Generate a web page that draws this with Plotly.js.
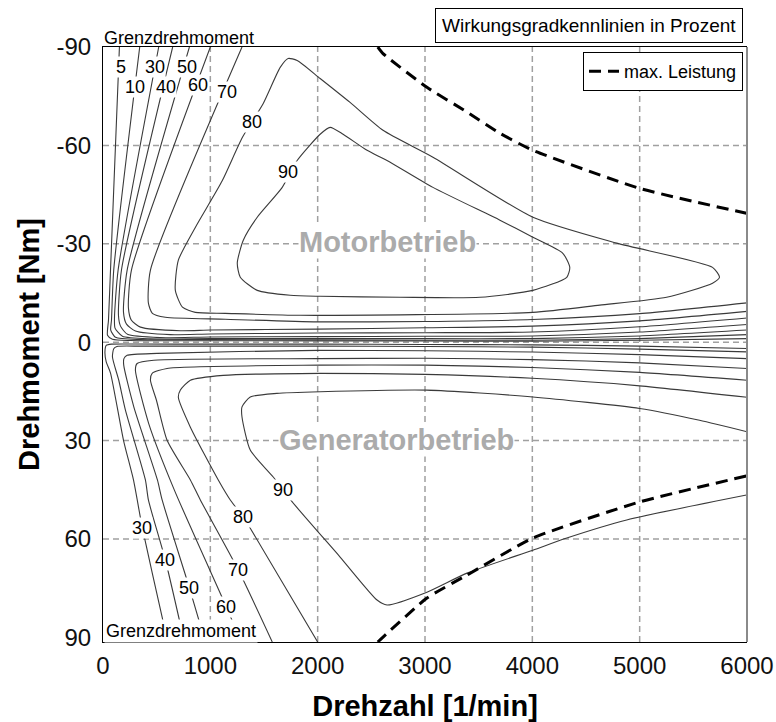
<!DOCTYPE html>
<html><head><meta charset="utf-8">
<script src="https://cdn.plot.ly/plotly-3.0.1.min.js"></script>
<style>html,body{margin:0;padding:0;background:#fff}#chart{width:776px;height:722px}</style>
</head><body><div id="chart"></div>
<script>
// ---- Motorbetrieb contours (Drehzahl N [1/min], Drehmoment T [Nm]) ----
const m5N  = [153, 70, 51, 42, 88, 256, 1000, 2000, 3000, 4000, 5000, 6000];
const m5T  = [-90, -22, -6.7, -2.1, -0.9, -0.5, -0.45, -0.4, -0.35, -0.3, -0.6, -1.1];
const m10N = [342, 100, 79, 72, 116, 349, 1000, 2000, 3000, 4000, 5000, 6000];
const m10T = [-90, -22, -6.7, -3.7, -1.5, -0.8, -0.8, -0.7, -0.6, -0.6, -1.1, -2.3];
const m30N = [519, 141, 107, 112, 181, 442, 1000, 2000, 3000, 4000, 5000, 6000];
const m30T = [-90, -22, -7.3, -4.3, -1.8, -1.0, -1.1, -1.1, -1.1, -1.1, -1.9, -3.7];
const m40N = [649, 172, 144, 163, 228, 535, 1000, 2000, 3000, 4000, 5000, 6000];
const m40T = [-90, -22, -8.2, -4.9, -2.4, -1.4, -1.6, -1.7, -1.8, -1.9, -3.1, -5.4];
const m50N = [805, 225, 191, 219, 302, 628, 1000, 2000, 3000, 4000, 5000, 6000];
const m50T = [-90, -22, -9.1, -5.5, -3.4, -2.3, -2.5, -2.8, -2.9, -3.1, -4.7, -7.4];
const m60N = [1000, 265, 237, 265, 349, 721, 1000, 2000, 3000, 4000, 5000, 6000];
const m60T = [-90, -22, -10.4, -6.7, -4.6, -3.5, -3.7, -4.0, -4.4, -4.9, -6.5, -9.4];
const m70N = [1295, 442, 423, 460, 581, 1139, 2000, 3000, 4000, 5000, 6000];
const m70T = [-90, -22, -11.9, -8.8, -7.6, -7.0, -6.2, -6.3, -6.9, -8.7, -12.0];
const m80N = [674, 702, 860, 1112, 1298, 1493, 1651, 1725, 1809, 2023, 2302, 2609, 3074, 4005, 4786, 5679, 5744, 5679, 5251, 4628, 4005, 1837, 1139, 860, 740, 674];
const m80T = [-15.8, -25.0, -35.0, -49.3, -62.4, -72.8, -83.8, -86.5, -85.9, -80.4, -73.1, -64.6, -56.4, -38.1, -30.2, -22.8, -19.8, -18.0, -13.7, -11.3, -9.1, -8.2, -8.8, -9.1, -10.7, -15.8];
const m90N = [1670, 1809, 2023, 2116, 2237, 2460, 2646, 3074, 3698, 4005, 4284, 4349, 4321, 4005, 3512, 2767, 2023, 1744, 1437, 1279, 1251, 1307, 1437, 1670];
const m90T = [-47.2, -55.4, -63.4, -65.5, -63.4, -58.5, -55.4, -47.2, -37.2, -32.0, -27.1, -22.8, -19.8, -15.8, -13.7, -13.7, -14.0, -14.3, -15.8, -19.8, -24.1, -31.1, -38.1, -47.2];

// ---- Generatorbetrieb contours ----
const g30N = [6000, 5000, 4000, 3000, 2000, 1000, 300, 80, 30, 18, 30, 70, 191, 284, 367, 553, 600];
const g30T = [1.9, 1.2, 0.8, 0.7, 0.6, 0.6, 0.55, 0.6, 1.0, 3.0, 6.0, 9.4, 29.9, 42.0, 56.7, 84.1, 91.4];
const g40N = [6000, 5000, 4000, 3000, 2000, 1000, 350, 130, 100, 88, 147, 209, 395, 423, 581, 758];
const g40T = [2.95, 2.1, 1.5, 1.3, 1.2, 1.2, 1.2, 1.3, 2.0, 4.5, 11.6, 20.7, 42.0, 48.1, 66.4, 91.4];
const g50N = [6000, 5000, 4000, 3000, 2000, 504, 225, 195, 193, 287, 507, 551, 805, 953];
const g50T = [5.0, 3.8, 3.0, 2.6, 2.5, 3.4, 4.0, 5.0, 7.0, 19.7, 42.0, 48.1, 74.9, 91.4];
const g60N = [6000, 5000, 4000, 3000, 2000, 473, 318, 302, 426, 665, 1149, 1288];
const g60T = [8.0, 6.3, 5.3, 4.9, 5.0, 5.5, 6.5, 8.5, 24.8, 45.1, 80.7, 91.4];
const g70N = [6000, 5000, 4000, 3000, 2023, 597, 458, 442, 498, 597, 814, 907, 1260, 1577];
const g70T = [11.6, 9.2, 7.7, 7.0, 7.0, 8.0, 9.5, 11.6, 17.7, 29.9, 42.0, 48.1, 69.4, 91.4];
const g80N = [6000, 5000, 4000, 3000, 2023, 1121, 814, 721, 702, 814, 1074, 1186, 1307, 1372, 2000];
const g80T = [16.8, 13.3, 11.0, 9.8, 9.5, 10.1, 11.6, 14.6, 16.8, 25.9, 42.0, 48.1, 53.3, 56.7, 91.4];
const g90N = [6000, 5558, 5000, 4005, 3016, 2023, 1620, 1372, 1295, 1295, 1372, 1586, 1763, 2209, 2553, 2646, 3018, 3391, 4005, 4321, 4879, 5995];
const g90T = [27.3, 23.8, 20.2, 16.7, 14.6, 15.1, 15.6, 16.7, 19.7, 22.8, 32.9, 41.1, 48.7, 65.5, 78.6, 80.1, 76.2, 70.4, 63.4, 59.7, 54.2, 46.6];

// ---- max. Leistung ----
const pMotorN = [2560, 2609, 3018, 3391, 3698, 4005, 5000, 5995];
const pMotorT = [-90, -88.0, -77.7, -70.2, -63.7, -58.5, -46.9, -39.3];
const pGenN = [5993, 5000, 4005, 3391, 3018, 2609, 2560];
const pGenT = [40.8, 48.7, 59.7, 71.0, 78.0, 89.9, 91.4];

// ---- contour labels ----
const labMText = ['5', '10', '30', '40', '50', '60', '70', '80', '90'];
const labMN = [163, 302, 488, 591, 786, 888, 1158, 1391, 1726];
const labMT = [-83.8, -77.7, -83.8, -77.7, -83.8, -78.3, -76.2, -67.0, -51.8];
const labGText = ['30', '40', '50', '60', '70', '80', '90'];
const labGN = [367, 581, 805, 1149, 1260, 1307, 1679];
const labGT = [56.7, 66.4, 74.9, 80.7, 69.4, 53.3, 45.1];

// ---- axes ----
const xTicks = [0, 1000, 2000, 3000, 4000, 5000, 6000];
const yTicks = [-90, -60, -30, 0, 30, 60, 90];
const xGrid = [1000, 2000, 3000, 4000, 5000];
const yGrid = [-60, -30, 0, 30, 60];

const FONT = 'Arial, "Liberation Sans", sans-serif';
const contourSets = [
  [m5N, m5T], [m10N, m10T], [m30N, m30T], [m40N, m40T], [m50N, m50T], [m60N, m60T],
  [m70N, m70T], [m80N, m80T], [m90N, m90T],
  [g30N, g30T], [g40N, g40T], [g50N, g50T], [g60N, g60T], [g70N, g70T], [g80N, g80T], [g90N, g90T]
];
const traces = contourSets.map(([n, t]) => ({
  type: 'scatter', mode: 'lines', x: n, y: t, showlegend: false, hoverinfo: 'skip',
  line: {color: '#3a3a3a', width: 1.1, shape: 'spline', smoothing: 0.6}
}));
traces.push({
  type: 'scatter', mode: 'lines', name: 'max. Leistung',
  x: pMotorN.concat([null], pGenN), y: pMotorT.concat([null], pGenT),
  connectgaps: false, line: {color: '#000', width: 3, dash: '12px,7px', shape: 'spline', smoothing: 0.5}
});

const annotations = [];
labMText.forEach((s, i) => annotations.push({x: labMN[i], y: labMT[i], text: s, showarrow: false,
  font: {family: FONT, size: 18, color: '#000'}, bgcolor: '#fff', borderpad: 0}));
labGText.forEach((s, i) => annotations.push({x: labGN[i], y: labGT[i], text: s, showarrow: false,
  font: {family: FONT, size: 18, color: '#000'}, bgcolor: '#fff', borderpad: 0}));
annotations.push({xref: 'paper', yref: 'paper', x: -0.002, y: 1.015, xanchor: 'left', yanchor: 'middle',
  text: 'Grenzdrehmoment', showarrow: false, font: {family: FONT, size: 18, color: '#000'}});
annotations.push({xref: 'paper', yref: 'paper', x: 0.001, y: 0.0185, xanchor: 'left', yanchor: 'middle',
  text: 'Grenzdrehmoment', showarrow: false, font: {family: FONT, size: 18, color: '#000'}, bgcolor: '#fff', borderpad: 1});
annotations.push({xref: 'paper', yref: 'paper', x: 0.9938, y: 1.036, xanchor: 'right', yanchor: 'middle',
  text: 'Wirkungsgradkennlinien in Prozent', showarrow: false, font: {family: FONT, size: 19, color: '#000'},
  bordercolor: '#000', borderwidth: 1, borderpad: 6, bgcolor: '#fff'});
annotations.push({x: 2650, y: -30.5, text: 'Motorbetrieb', showarrow: false,
  font: {family: FONT, size: 29, color: '#ababab', weight: 'bold'}, bgcolor: '#fff', borderpad: 0});
annotations.push({x: 2730, y: 29.8, text: 'Generatorbetrieb', showarrow: false,
  font: {family: FONT, size: 29, color: '#ababab', weight: 'bold'}, bgcolor: '#fff', borderpad: 0});

const shapes = [];
xGrid.forEach(v => shapes.push({type: 'line', xref: 'x', yref: 'paper', x0: v, x1: v, y0: 0, y1: 1, layer: 'below',
  line: {color: '#a0a0a0', width: 1.5, dash: '6px,4px'}}));
yGrid.forEach(v => shapes.push({type: 'line', xref: 'paper', yref: 'y', x0: 0, x1: 1, y0: v, y1: v, layer: 'below',
  line: {color: '#a0a0a0', width: 1.5, dash: '6px,4px'}}));
shapes.push({type: 'line', xref: 'paper', yref: 'paper', x0: 1, x1: 1, y0: 0, y1: 1, line: {color: '#8a8a8a', width: 2}});

const layout = {
  width: 776, height: 722,
  margin: {l: 103, r: 29, t: 47, b: 80},
  paper_bgcolor: '#fff', plot_bgcolor: '#fff',
  font: {family: FONT, color: '#000'},
  xaxis: {range: [0, 6000], tickvals: xTicks, ticktext: xTicks.map(String), showgrid: false, zeroline: false,
    showline: true, linecolor: '#000', linewidth: 1, mirror: true,
    ticks: 'outside', ticklen: 2, tickcolor: 'rgba(0,0,0,0)', tickfont: {family: FONT, size: 24, color: '#111'},
    title: {text: 'Drehzahl [1/min]', standoff: 24, font: {family: FONT, size: 29, color: '#000', weight: 'bold'}}},
  yaxis: {range: [91.4, -90], tickvals: yTicks, ticktext: yTicks.map(String), showgrid: false, zeroline: false,
    showline: true, linecolor: '#000', linewidth: 1,
    ticks: 'outside', ticklen: 6, tickcolor: 'rgba(0,0,0,0)', tickfont: {family: FONT, size: 24, color: '#111'},
    title: {text: 'Drehmoment [Nm]', standoff: 8, font: {family: FONT, size: 29, color: '#000', weight: 'bold'}}},
  legend: {x: 0.9938, y: 0.9916, xanchor: 'right', yanchor: 'top', bgcolor: '#fff', bordercolor: '#000', borderwidth: 1,
    font: {family: FONT, size: 18, color: '#000'}, itemwidth: 30},
  showlegend: true,
  annotations: annotations,
  shapes: shapes
};
Plotly.newPlot('chart', traces, layout, {displayModeBar: false, staticPlot: true});
</script>
</body></html>
